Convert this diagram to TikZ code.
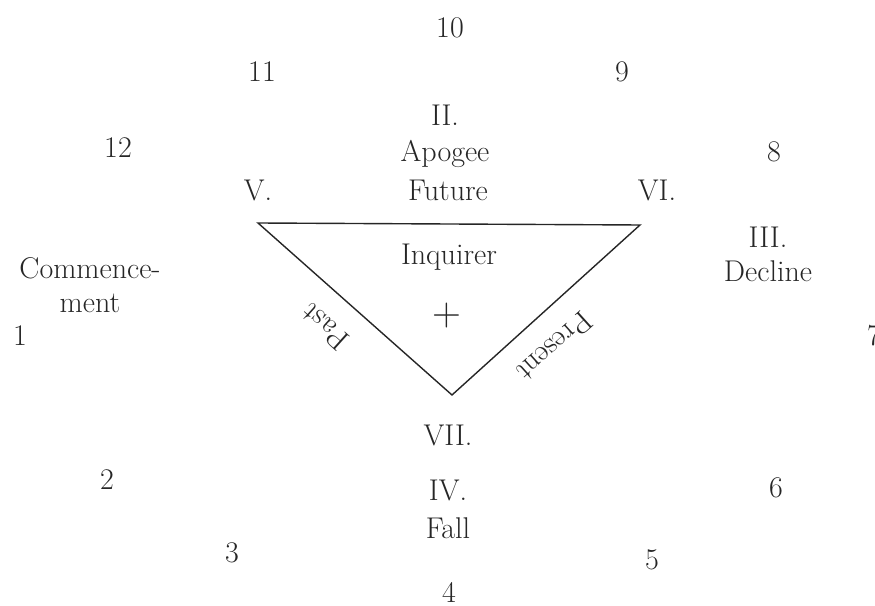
\documentclass[tikz,border=0pt]{standalone}
\usetikzlibrary{positioning,calc}

\begin{document}
\begin{tikzpicture}[x=0.5pt, y=0.5pt,
        lbl/.style={font=\fontsize{15}{17}\selectfont, text=black!85, inner sep=1pt, align=center},
        num/.style={lbl},
        edge/.style={draw=black!85, line width=0.7pt}]
        \useasboundingbox (0,0) rectangle (875,606);
        \clip (0,0) rectangle (875,606);
        % the hours round the figure
        \node[num] (h10) at (450,578) {10};
        \node[num] (h11) at (262,534) {11};
        \node[num] (h9)  at (622,534) {9};
        \node[num] (h12) at (118,458) {12};
        \node[num] (h8)  at (774,454) {8};
        \node[num] (h1)  at (20,270) {1};
        \node[num] (h7)  at (874,270) {7};
        \node[num] (h2)  at (107,126) {2};
        \node[num] (h6)  at (776,118) {6};
        \node[num] (h3)  at (232,53) {3};
        \node[num] (h5)  at (652,46) {5};
        \node[num] (h4)  at (449,14) {4};
        % the quarters
        \node[lbl] (apogee) at (445,470) {II.\\[1pt] Apogee};
        \node[lbl] (future) at (448,416) {Future};
        \node[lbl] (decline) at (768,352) {III.\\ Decline};
        \node[lbl, text width=130pt] (commence) at (90,321) {Commence-\\ ment};
        \node[lbl] (vii) at (448,171) {VII.};
        \node[lbl] (fall) at (448,97) {IV.\\[2pt] Fall};
        \node[lbl] (v)  at (258,416) {V.};
        \node[lbl] (vi) at (657,416) {VI.};
        % the triangle
        \coordinate (tl) at (258,383);
        \coordinate (tr) at (640,381);
        \coordinate (bt) at (452,211);
        \draw[edge] (tl) -- (tr) -- (bt) -- cycle;
        \node[lbl] (inq) at (449,349) {Inquirer};
        \node[lbl, font=\fontsize{20}{22}\selectfont] (cross) at (447,290) {+};
        \node[lbl, rotate=138] (past) at (325,279) {Past};
        \node[lbl, rotate=222] (present) at (555,259) {Present};
    \end{tikzpicture}
\end{document}
